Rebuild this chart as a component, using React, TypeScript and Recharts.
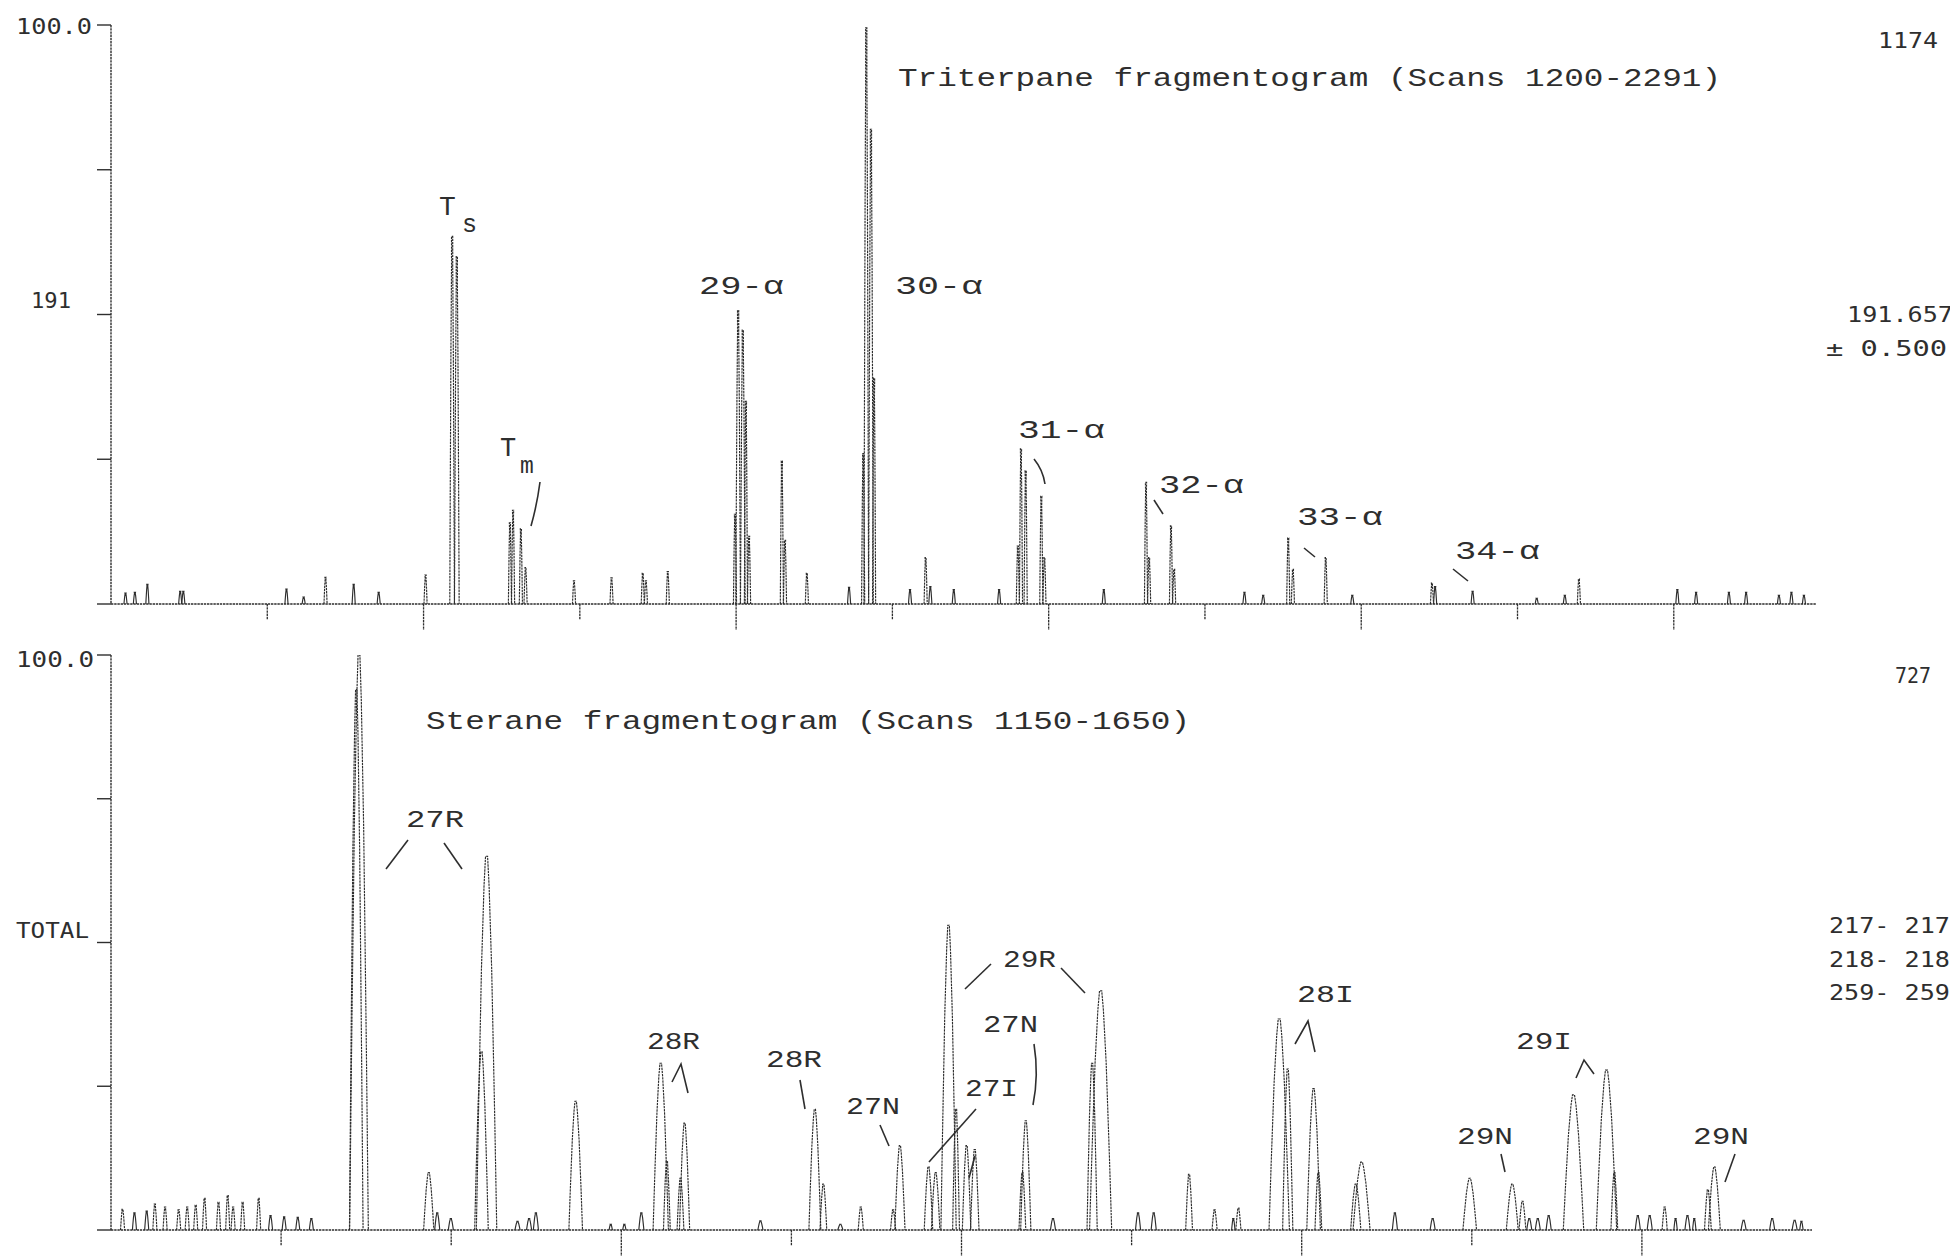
import React from 'react';
import { ComposedChart, Bar, XAxis, YAxis } from 'recharts';

// ---------- DATA ----------
// Triterpane fragmentogram (m/z 191), scans 1200-2291: [scan, relative intensity %, base width in scans]
const triterpanePeaks: [number, number, number][] = [
  [1209, 1.9, 2], [1215, 2, 2], [1223, 3.4, 2], [1244, 2.2, 2], [1246, 2.2, 2],
  [1312, 2.6, 2], [1323, 1.2, 2], [1337, 4.6, 2], [1355, 3.4, 2], [1371, 2, 2], [1401, 5, 2],
  [1418, 63.5, 3], [1421, 60, 3],
  [1455, 14, 2], [1457, 16.2, 2], [1462, 13, 2], [1465, 6.3, 2],
  [1496, 4, 2], [1520, 4.5, 2], [1540, 5.3, 2], [1542, 4, 2], [1556, 5.6, 2],
  [1599, 15.5, 2], [1601, 50.7, 3], [1604, 47.3, 3], [1606, 35, 2], [1608, 11.7, 2],
  [1629, 24.7, 2], [1631, 11, 2], [1645, 5.3, 2], [1672, 2.9, 2],
  [1681, 26, 2], [1683, 99.5, 3], [1686, 82, 3], [1688, 39, 2],
  [1711, 2.5, 2], [1721, 8, 2], [1724, 3, 2], [1739, 2.5, 2], [1768, 2.5, 2],
  [1780, 10, 2], [1782, 26.8, 2], [1785, 23, 2], [1795, 18.6, 2], [1797, 8, 2],
  [1835, 2.5, 2], [1862, 21, 2], [1864, 8, 2], [1878, 13.5, 2], [1880, 6, 2],
  [1925, 2, 2], [1937, 1.5, 2], [1953, 11.4, 2], [1956, 6, 2], [1977, 8, 2], [1994, 1.5, 2],
  [2045, 3.6, 2], [2047, 3, 2], [2071, 2.2, 2], [2112, 1, 2], [2130, 1.5, 2], [2139, 4.3, 2],
  [2202, 2.5, 2], [2214, 2, 2], [2235, 2, 2], [2246, 2, 2], [2267, 1.5, 2], [2275, 2, 2], [2283, 1.5, 2],
];

// Sterane fragmentogram (m/z 217+218+259), scans 1150-1650
const steranePeaks: [number, number, number][] = [
  [1153.5, 3.6, 1.2], [1157, 3, 1.2], [1160.6, 3.3, 1.2], [1163, 4.5, 1.2], [1166, 4, 1.2],
  [1170, 3.5, 1.2], [1172.5, 4, 1.2], [1175, 4.3, 1.2], [1177.6, 5.5, 1.2], [1181.7, 4.8, 1.2],
  [1184.4, 6, 1.2], [1186, 4, 1.2], [1188.8, 4.8, 1.2], [1193.5, 5.5, 1.2], [1197, 2.5, 1.2],
  [1201, 2.3, 1.2], [1205, 2.2, 1.2], [1209, 2, 1.2],
  [1222.2, 94, 4], [1223, 100, 5.5],
  [1243.5, 10, 3], [1246, 3, 1.5], [1250, 2, 1.5],
  [1259, 31, 4], [1260.5, 65, 6],
  [1269.6, 1.5, 1.5], [1273, 2, 1.5], [1275, 3, 1.5],
  [1286.7, 22.4, 4], [1297, 1, 1], [1301, 1, 1], [1306, 3, 1.5],
  [1311.7, 29, 4.5], [1313.5, 12, 2], [1317.5, 9, 2], [1318.7, 18.6, 3],
  [1341, 1.6, 1.5], [1357, 21, 3.5], [1359.5, 8, 2], [1364.5, 1, 1.5], [1370.5, 4, 1.5],
  [1380, 3.5, 1.5], [1382, 14.7, 3],
  [1390.4, 11, 2.5], [1392.5, 10, 2.5], [1396.3, 53, 4.5], [1398.5, 21, 2], [1401.6, 14.7, 2.5], [1404, 14, 2.5],
  [1418, 10, 2], [1419, 19, 3], [1427, 2, 1.5],
  [1438.5, 29, 3], [1441, 41.6, 6.5],
  [1452, 3, 1.5], [1456.6, 3, 1.5], [1467, 9.7, 2], [1474.5, 3.5, 1.5], [1480, 2, 1], [1481.5, 3.8, 1.5],
  [1493.5, 36.7, 6], [1496, 28, 3], [1503.6, 24.6, 4], [1505, 10, 2],
  [1516, 8, 3], [1517.7, 11.8, 5], [1527.5, 3, 1.5], [1538.6, 2, 1.5],
  [1549.5, 9, 4], [1562, 8, 3.5], [1565, 5, 2], [1567, 2, 1.5], [1569.5, 2, 1.5], [1572.7, 2.5, 1.5],
  [1580, 23.5, 6], [1589.7, 27.8, 6], [1592, 10, 2],
  [1598.9, 2.5, 1.5], [1602.4, 2.5, 1.5], [1606.8, 4, 1.5], [1610, 2, 1], [1613.5, 2.5, 1.5], [1615.5, 2, 1],
  [1619.5, 7, 2], [1621.4, 11, 3.5], [1630, 1.7, 1.5], [1638.4, 2, 1.5], [1645, 1.7, 1.5], [1647, 1.5, 1],
];

const topTicks = [1300, 1400, 1500, 1600, 1700, 1800, 1900, 2000, 2100, 2200];
const topLongTicks = [1400, 1600, 1800, 2000, 2200];
const bottomTicks = [1200, 1250, 1300, 1350, 1400, 1450, 1500, 1550, 1600];
const bottomLongTicks = [1300, 1400, 1500, 1600];
const yTicks = [0, 25, 50, 75, 100];

const topTitle = 'Triterpane fragmentogram (Scans 1200-2291)';
const bottomTitle = 'Sterane fragmentogram (Scans 1150-1650)';

// ---------- LAYOUT / STYLE ----------
const W = 1950;
const H = 1259;
const INK = '#2e2e2e';
const DASH = '2.4 0.8';
const MONO = '"Liberation Mono", "DejaVu Sans Mono", monospace';
const DOT = '"DejaVu Sans Mono", "Liberation Mono", monospace';

type Cfg = { top: number; height: number; left: number; right: number; plotTop: number; plotBottom: number; domain: [number, number] };
const TOP: Cfg = { top: 0, height: 640, left: 111, right: 1816, plotTop: 25, plotBottom: 604, domain: [1200, 2291] };
const BOT: Cfg = { top: 620, height: 639, left: 111, right: 1812, plotTop: 655, plotBottom: 1230, domain: [1150, 1650] };

function makeSpike(pxPerScan: number) {
  return (props: any) => {
    const { x, y, width, height, payload } = props;
    if (x == null || y == null || !isFinite(x) || !isFinite(y)) return <g />;
    const cx = x + width / 2;
    const base = y + height;
    const hw = Math.max(1.3, (payload.w * pxPerScan) / 2);
    const tw = Math.max(0.6, hw * 0.1);
    const h = height;
    const pts = [
      [cx - hw, base],
      [cx - hw * 0.8, base - h * 0.3],
      [cx - hw * 0.5, base - h * 0.7],
      [cx - hw * 0.25, base - h * 0.92],
      [cx - tw, y],
      [cx + tw, y],
      [cx + hw * 0.25, base - h * 0.92],
      [cx + hw * 0.5, base - h * 0.7],
      [cx + hw * 0.8, base - h * 0.3],
      [cx + hw, base],
    ];
    const d = 'M' + pts.map((p) => `${p[0].toFixed(2)},${p[1].toFixed(2)}`).join('L');
    return <path d={d} fill="none" stroke={INK} strokeWidth={1.15} strokeDasharray={h > 20 ? DASH : undefined} />;
  };
}

function makeXTick(longTicks: number[]) {
  return (props: any) => {
    const { x, y, payload } = props;
    const len = longTicks.includes(payload.value) ? 26 : 16;
    return <line x1={x} x2={x} y1={y} y2={y + len} stroke={INK} strokeWidth={1.3} strokeDasharray={DASH} />;
  };
}

const NoLabel = () => <g />;

function Panel({ cfg, peaks, ticks, longTicks }: { cfg: Cfg; peaks: [number, number, number][]; ticks: number[]; longTicks: number[] }) {
  const data = peaks.map(([s, h, w]) => ({ s, h, w }));
  const pxPerScan = (cfg.right - cfg.left) / (cfg.domain[1] - cfg.domain[0]);
  return (
    <div style={{ position: 'absolute', left: 0, top: cfg.top }}>
      <ComposedChart
        width={W}
        height={cfg.height}
        data={data}
        margin={{ top: cfg.plotTop - cfg.top, right: W - cfg.right, bottom: 0, left: 0 }}
      >
        <XAxis
          dataKey="s"
          type="number"
          domain={cfg.domain}
          ticks={ticks}
          interval={0}
          allowDataOverflow
          height={cfg.top + cfg.height - cfg.plotBottom}
          tickSize={0}
          tickMargin={0}
          tickLine={false}
          tick={makeXTick(longTicks)}
          axisLine={{ stroke: INK, strokeWidth: 1.7, strokeDasharray: DASH }}
        />
        <YAxis
          type="number"
          domain={[0, 100]}
          ticks={yTicks}
          interval={0}
          allowDataOverflow
          width={cfg.left}
          tick={NoLabel}
          tickSize={14}
          tickLine={{ stroke: INK, strokeWidth: 1.4 }}
          axisLine={{ stroke: INK, strokeWidth: 1.4, strokeDasharray: DASH }}
        />
        <Bar dataKey="h" barSize={2} shape={makeSpike(pxPerScan)} isAnimationActive={false} />
      </ComposedChart>
    </div>
  );
}

// annotation texts: [text, x, baselineY, textLength, fontSize, font]
type T = [string, number, number, number, number, string];
const sideTexts: T[] = [
  ['100.0', 16, 34, 76, 21, DOT],
  ['191', 31, 308, 40, 21, DOT],
  ['1174', 1878, 48, 60, 21, DOT],
  ['191.657', 1847, 322, 106, 21, DOT],
  ['±  0.500', 1826, 356, 121, 21, DOT],
  ['100.0', 16, 667, 78, 21, DOT],
  ['TOTAL', 16, 938, 73, 21, DOT],
  ['727', 1895, 683, 36, 21, DOT],
  ['217- 217', 1829, 933, 121, 21, DOT],
  ['218- 218', 1829, 967, 121, 21, DOT],
  ['259- 259', 1829, 1000, 121, 21, DOT],
];
const titleTexts: T[] = [
  [topTitle, 898, 86, 823, 25, MONO],
  [bottomTitle, 426, 729, 764, 25, MONO],
];
const peakLabels: T[] = [
  ['29-α', 699, 294, 85, 25, MONO],
  ['30-α', 895, 294, 88, 25, MONO],
  ['31-α', 1018, 438, 87, 25, MONO],
  ['32-α', 1159, 493, 85, 25, MONO],
  ['33-α', 1297, 525, 86, 25, MONO],
  ['34-α', 1455, 559, 85, 25, MONO],
  ['27R', 406, 827, 58, 24, MONO],
  ['28R', 647, 1049, 53, 24, MONO],
  ['28R', 766, 1067, 56, 24, MONO],
  ['27N', 846, 1114, 54, 24, MONO],
  ['27I', 965, 1096, 53, 24, MONO],
  ['27N', 983, 1032, 55, 24, MONO],
  ['29R', 1003, 967, 53, 24, MONO],
  ['28I', 1297, 1002, 57, 24, MONO],
  ['29I', 1516, 1049, 56, 24, MONO],
  ['29N', 1457, 1144, 56, 24, MONO],
  ['29N', 1693, 1144, 56, 24, MONO],
];
const leaders: string[] = [
  'M540,482 Q537,505 531,526',
  'M1034,459 Q1043,470 1045,484',
  'M1154,500 L1163,514',
  'M1304,548 L1315,557',
  'M1453,569 L1468,581',
  'M386,869 L408,840',
  'M444,843 L462,869',
  'M672,1082 L681,1064 L688,1093',
  'M800,1080 L805,1109',
  'M880,1125 L889,1146',
  'M929,1162 L976,1109',
  'M969,1178 L975,1156',
  'M1034,1044 Q1039,1075 1033,1105',
  'M965,989 L991,964',
  'M1061,968 L1085,993',
  'M1295,1044 L1308,1021 L1315,1052',
  'M1576,1078 L1584,1060 L1594,1074',
  'M1501,1154 L1505,1172',
  'M1735,1154 L1725,1182',
];

function Txt({ t }: { t: T }) {
  const [s, x, y, len, fs, font] = t;
  return (
    <text x={x} y={y} textLength={len} lengthAdjust="spacingAndGlyphs" fontSize={fs} fontFamily={font} fill={INK}>
      {s}
    </text>
  );
}

export default function App() {
  return (
    <div style={{ position: 'absolute', left: 0, top: 0, width: W, height: H, background: '#fff', overflow: 'hidden' }}>
      <Panel cfg={TOP} peaks={triterpanePeaks} ticks={topTicks} longTicks={topLongTicks} />
      <Panel cfg={BOT} peaks={steranePeaks} ticks={bottomTicks} longTicks={bottomLongTicks} />
      <svg width={W} height={H} style={{ position: 'absolute', left: 0, top: 0, pointerEvents: 'none' }}>
        {sideTexts.map((t, i) => <Txt key={'s' + i} t={t} />)}
        {titleTexts.map((t, i) => <Txt key={'t' + i} t={t} />)}
        {peakLabels.map((t, i) => <Txt key={'p' + i} t={t} />)}
        <text x={439} y={215} fontSize={28} fontFamily={MONO} fill={INK}>T</text>
        <text x={462} y={232} fontSize={25} fontFamily={MONO} fill={INK}>s</text>
        <text x={500} y={456} fontSize={27} fontFamily={MONO} fill={INK}>T</text>
        <text x={520} y={473} fontSize={23} fontFamily={MONO} fill={INK}>m</text>
        {leaders.map((d, i) => (
          <path key={'l' + i} d={d} fill="none" stroke={INK} strokeWidth={1.6} />
        ))}
      </svg>
    </div>
  );
}
